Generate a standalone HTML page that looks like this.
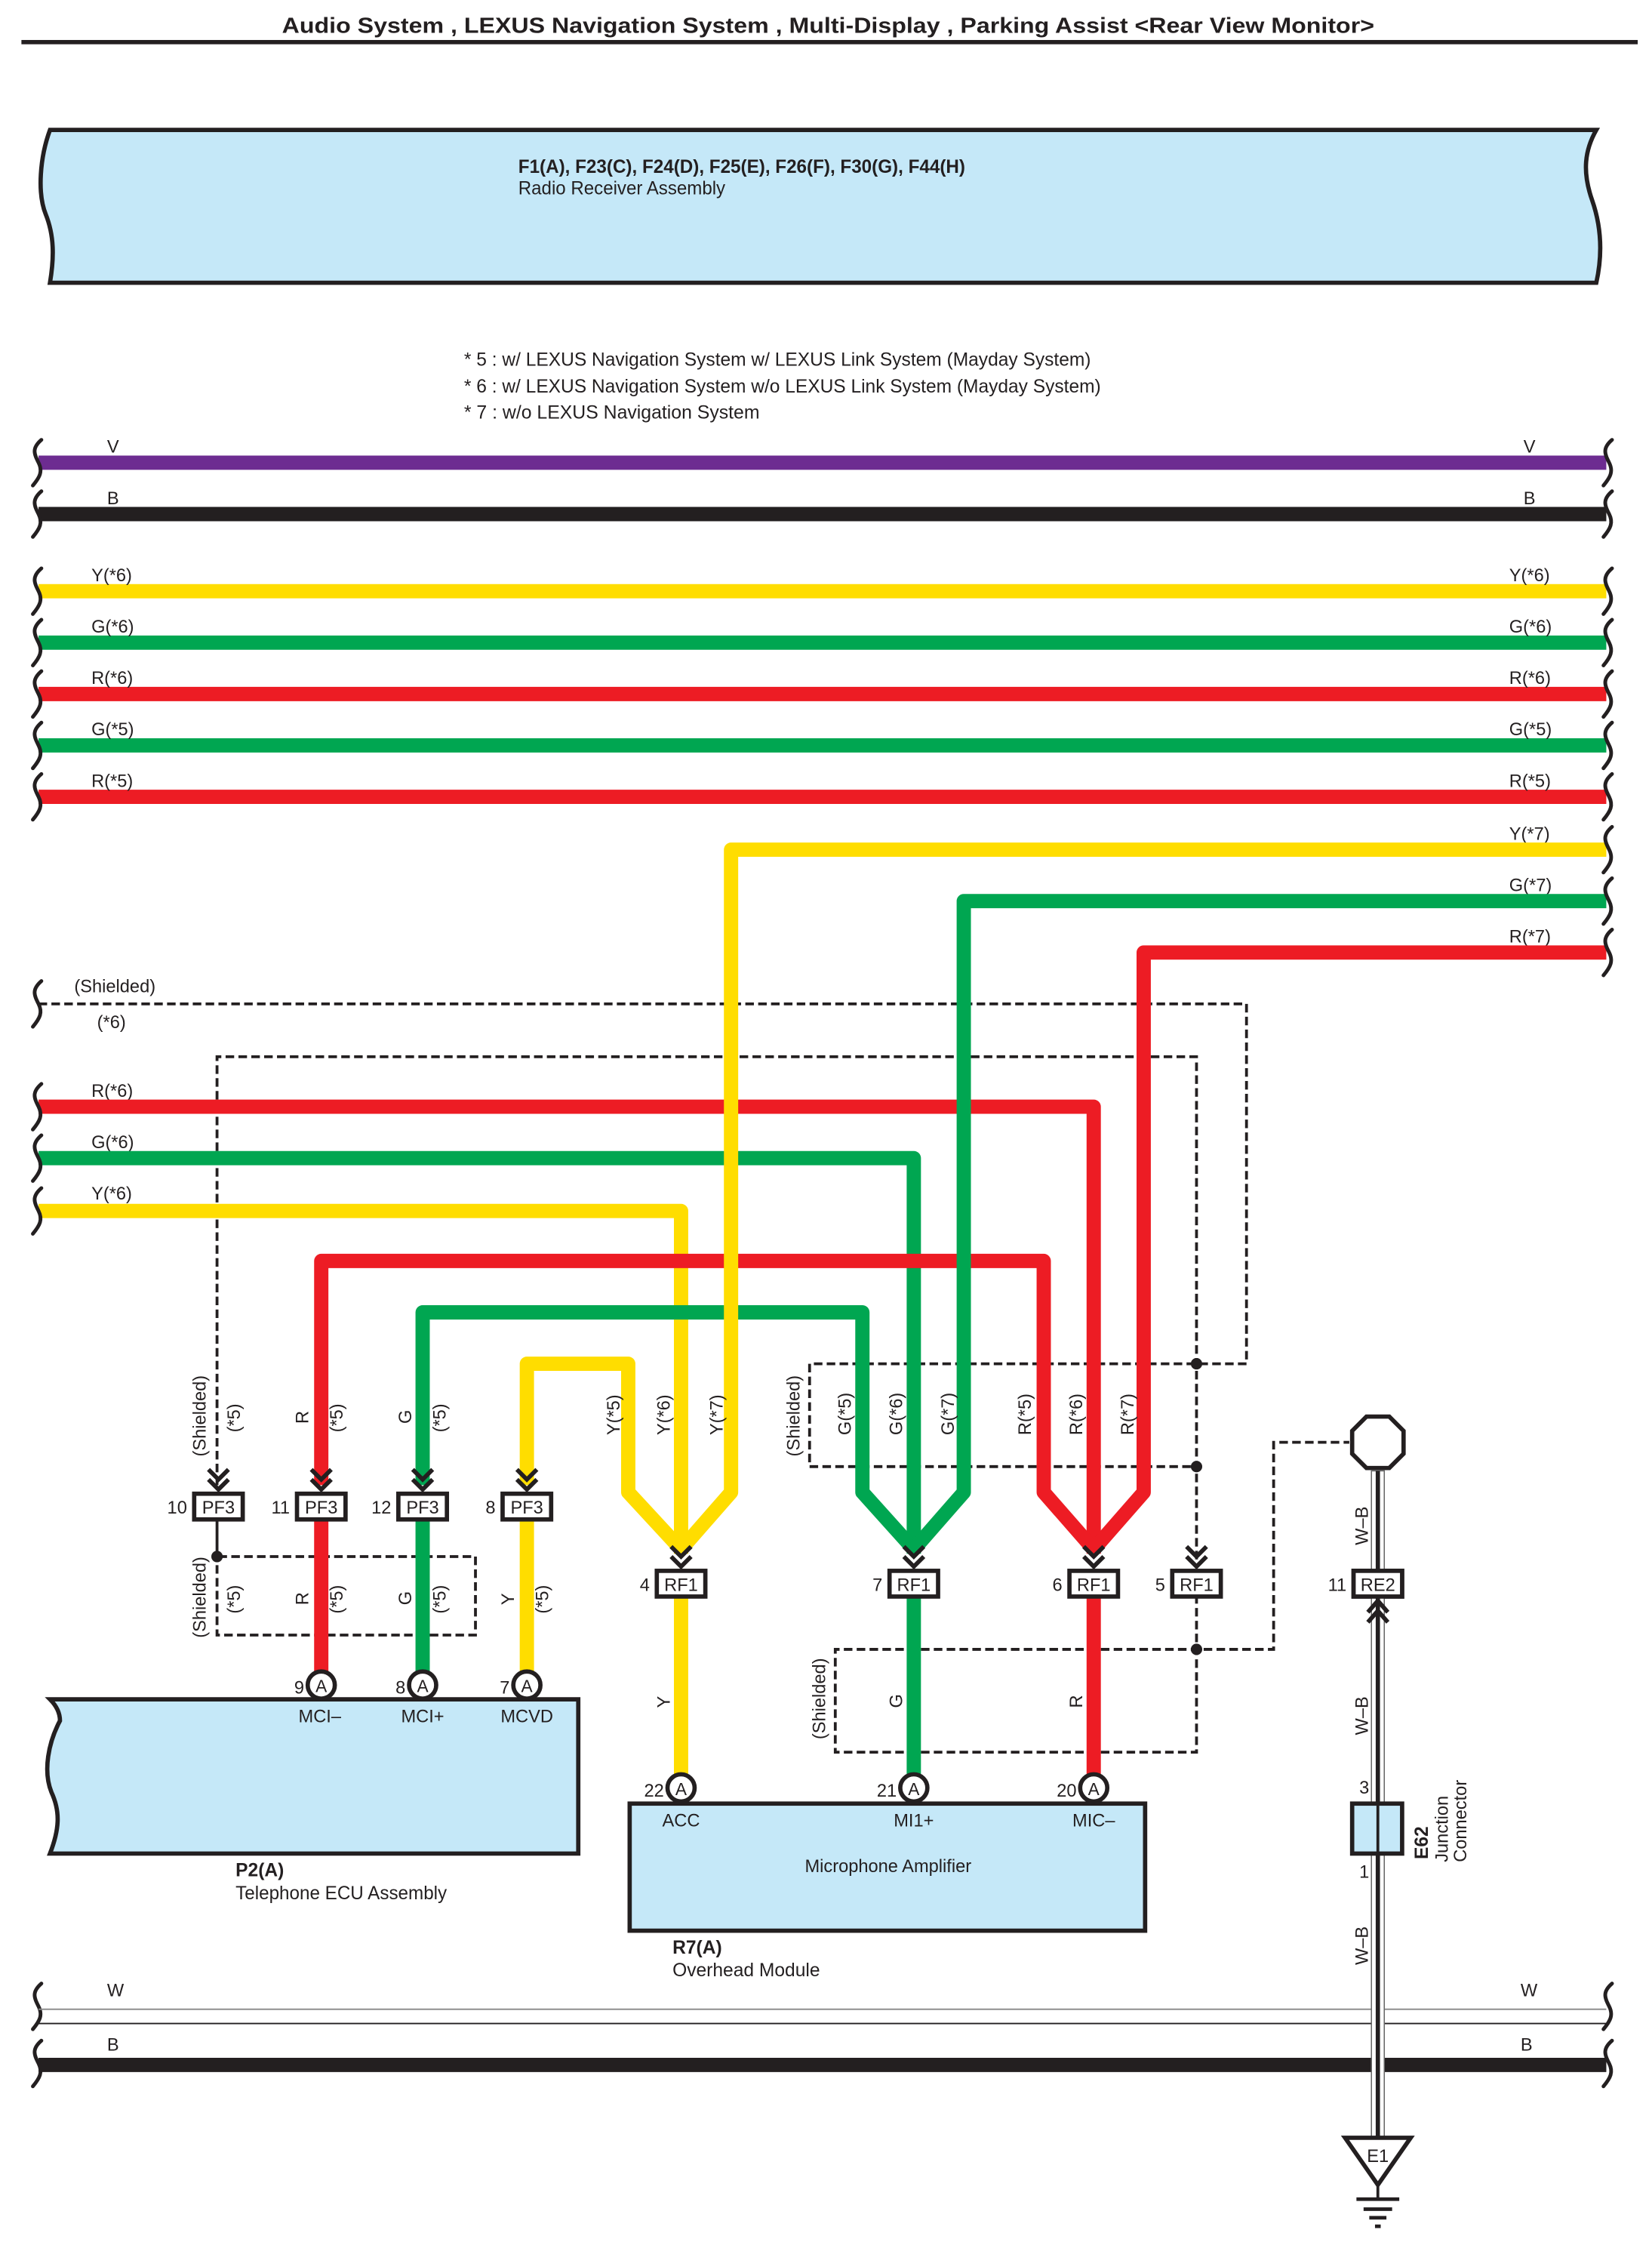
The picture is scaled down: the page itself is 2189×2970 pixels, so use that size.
<!DOCTYPE html>
<html><head><meta charset="utf-8"><style>
html,body{margin:0;padding:0;background:#fff}
svg{display:block}
text{font-family:"Liberation Sans",sans-serif;fill:#231f20}
</style></head><body>
<svg width="2189" height="2970" viewBox="0 0 1157 1570" preserveAspectRatio="none" xmlns="http://www.w3.org/2000/svg">
<defs>
<g id="chev"><path d="M-7,-15 L0,-8 L7,-15 M-7,-8 L0,-1 L7,-8" fill="none" stroke="#231f20" stroke-width="3"/></g>
<g id="sq"><path d="M4,-16 C-3,-10 -1,-6 2,0 C5,6 3,10 -2,16" fill="none" stroke="#231f20" stroke-width="2.6" stroke-linecap="round"/></g>
</defs>

<text x="580" y="23" font-size="15" font-weight="bold" text-anchor="middle" textLength="765" lengthAdjust="spacingAndGlyphs">Audio System , LEXUS Navigation System , Multi-Display , Parking Assist &lt;Rear View Monitor&gt;</text>
<rect x="15" y="28" width="1132" height="3" fill="#231f20"/>

<path d="M35,91 L1118,91 C1110,105 1108,120 1115,140 C1122,160 1122,180 1118,198 L35,198 C38,180 38,165 32,150 C26,135 28,110 35,91 Z" fill="#c5e8f8" stroke="#231f20" stroke-width="3"/>
<text x="363" y="121" font-size="13" font-weight="bold" textLength="313" lengthAdjust="spacingAndGlyphs">F1(A), F23(C), F24(D), F25(E), F26(F), F30(G), F44(H)</text>
<text x="363" y="136" font-size="13" textLength="145" lengthAdjust="spacingAndGlyphs">Radio Receiver Assembly</text>

<text x="325" y="256" font-size="13" textLength="439" lengthAdjust="spacingAndGlyphs">* 5 : w/ LEXUS Navigation System w/ LEXUS Link System (Mayday System)</text>
<text x="325" y="275" font-size="13" textLength="446" lengthAdjust="spacingAndGlyphs">* 6 : w/ LEXUS Navigation System w/o LEXUS Link System (Mayday System)</text>
<text x="325" y="293" font-size="13" textLength="207" lengthAdjust="spacingAndGlyphs">* 7 : w/o LEXUS Navigation System</text>

<g stroke-width="10" fill="none">
<line x1="27" y1="324" x2="1125" y2="324" stroke="#6d2c91"/>
<line x1="27" y1="360" x2="1125" y2="360" stroke="#231f20"/>
<line x1="27" y1="414" x2="1125" y2="414" stroke="#ffdd00"/>
<line x1="27" y1="450" x2="1125" y2="450" stroke="#00a651"/>
<line x1="27" y1="486" x2="1125" y2="486" stroke="#ed1c24"/>
<line x1="27" y1="522" x2="1125" y2="522" stroke="#00a651"/>
<line x1="27" y1="558" x2="1125" y2="558" stroke="#ed1c24"/>
</g>
<g font-size="12.5">
<text x="75" y="317">V</text><text x="1067" y="317">V</text>
<text x="75" y="353">B</text><text x="1067" y="353">B</text>
<text x="64" y="407">Y(*6)</text><text x="1057" y="407">Y(*6)</text>
<text x="64" y="443">G(*6)</text><text x="1057" y="443">G(*6)</text>
<text x="64" y="479">R(*6)</text><text x="1057" y="479">R(*6)</text>
<text x="64" y="515">G(*5)</text><text x="1057" y="515">G(*5)</text>
<text x="64" y="551">R(*5)</text><text x="1057" y="551">R(*5)</text>
<text x="1057" y="588">Y(*7)</text>
<text x="1057" y="624">G(*7)</text>
<text x="1057" y="660">R(*7)</text>
<text x="52" y="695">(Shielded)</text>
<text x="68" y="720">(*6)</text>
<text x="64" y="768">R(*6)</text>
<text x="64" y="804">G(*6)</text>
<text x="64" y="840">Y(*6)</text>
</g>

<g stroke="#231f20" stroke-width="2" stroke-dasharray="6,3" fill="none">
<path d="M27,703 L873,703 L873,955 L567,955 L567,1027 L838,1027"/>
<path d="M152,1040 L152,740 L838,740 L838,1093"/>
<path d="M152,1064 L152,1090 L333,1090 L333,1145 L152,1145 Z"/>
<path d="M838,1117 L838,1227 L585,1227 L585,1155 L892,1155 L892,1010 L945,1010"/>
</g>
<g fill="#231f20">
<circle cx="838" cy="955" r="4"/><circle cx="838" cy="1027" r="4"/>
<circle cx="152" cy="1090" r="4"/><circle cx="838" cy="1155" r="4"/>
</g>

<g stroke-width="10" fill="none" stroke-linejoin="round">
<path d="M27,775 L766,775 L766,1088" stroke="#ed1c24"/>
<path d="M27,811 L640,811 L640,1088" stroke="#00a651"/>
<path d="M27,848 L477,848 L477,1088" stroke="#ffdd00"/>
<path d="M225,1040 L225,883 L731,883 L731,1045 L766,1085" stroke="#ed1c24"/>
<path d="M296,1040 L296,919 L604,919 L604,1045 L640,1085" stroke="#00a651"/>
<path d="M369,1040 L369,955 L440,955 L440,1045 L477,1085" stroke="#ffdd00"/>
<path d="M1125,595 L512,595 L512,1045 L477,1085" stroke="#ffdd00"/>
<path d="M1125,631 L675,631 L675,1045 L640,1085" stroke="#00a651"/>
<path d="M1125,667 L801,667 L801,1045 L766,1085" stroke="#ed1c24"/>
<line x1="225" y1="1064" x2="225" y2="1172" stroke="#ed1c24"/>
<line x1="296" y1="1064" x2="296" y2="1172" stroke="#00a651"/>
<line x1="369" y1="1064" x2="369" y2="1172" stroke="#ffdd00"/>
<line x1="477" y1="1117" x2="477" y2="1244" stroke="#ffdd00"/>
<line x1="640" y1="1117" x2="640" y2="1244" stroke="#00a651"/>
<line x1="766" y1="1117" x2="766" y2="1244" stroke="#ed1c24"/>
</g>

<g>
<use href="#sq" x="25" y="324"/><use href="#sq" x="25" y="360"/>
<use href="#sq" x="25" y="414"/><use href="#sq" x="25" y="450"/><use href="#sq" x="25" y="486"/><use href="#sq" x="25" y="522"/><use href="#sq" x="25" y="558"/>
<use href="#sq" x="25" y="703"/>
<use href="#sq" x="25" y="775"/><use href="#sq" x="25" y="811"/><use href="#sq" x="25" y="848"/>
<use href="#sq" x="25" y="1405"/><use href="#sq" x="25" y="1445"/>
<use href="#sq" x="1125" y="324"/><use href="#sq" x="1125" y="360"/>
<use href="#sq" x="1125" y="414"/><use href="#sq" x="1125" y="450"/><use href="#sq" x="1125" y="486"/><use href="#sq" x="1125" y="522"/><use href="#sq" x="1125" y="558"/>
<use href="#sq" x="1125" y="595"/><use href="#sq" x="1125" y="631"/><use href="#sq" x="1125" y="667"/>
<use href="#sq" x="1125" y="1405"/><use href="#sq" x="1125" y="1445"/>
</g>

<g font-size="12.5">
<text transform="translate(144,1020) rotate(-90)">(Shielded)</text>
<text transform="translate(168,1003) rotate(-90)">(*5)</text>
<text transform="translate(216,997) rotate(-90)">R</text>
<text transform="translate(240,1003) rotate(-90)">(*5)</text>
<text transform="translate(288,997) rotate(-90)">G</text>
<text transform="translate(312,1003) rotate(-90)">(*5)</text>
<text transform="translate(434,1005) rotate(-90)">Y(*5)</text>
<text transform="translate(469,1005) rotate(-90)">Y(*6)</text>
<text transform="translate(506,1005) rotate(-90)">Y(*7)</text>
<text transform="translate(560,1020) rotate(-90)">(Shielded)</text>
<text transform="translate(596,1005) rotate(-90)">G(*5)</text>
<text transform="translate(632,1005) rotate(-90)">G(*6)</text>
<text transform="translate(668,1005) rotate(-90)">G(*7)</text>
<text transform="translate(722,1005) rotate(-90)">R(*5)</text>
<text transform="translate(758,1005) rotate(-90)">R(*6)</text>
<text transform="translate(794,1005) rotate(-90)">R(*7)</text>
<text transform="translate(144,1147) rotate(-90)">(Shielded)</text>
<text transform="translate(168,1130) rotate(-90)">(*5)</text>
<text transform="translate(216,1124) rotate(-90)">R</text>
<text transform="translate(240,1130) rotate(-90)">(*5)</text>
<text transform="translate(288,1124) rotate(-90)">G</text>
<text transform="translate(312,1130) rotate(-90)">(*5)</text>
<text transform="translate(360,1124) rotate(-90)">Y</text>
<text transform="translate(384,1130) rotate(-90)">(*5)</text>
<text transform="translate(469,1196) rotate(-90)">Y</text>
<text transform="translate(578,1218) rotate(-90)">(Shielded)</text>
<text transform="translate(632,1196) rotate(-90)">G</text>
<text transform="translate(758,1196) rotate(-90)">R</text>
<text transform="translate(958,1082) rotate(-90)">W–B</text>
<text transform="translate(958,1215) rotate(-90)">W–B</text>
<text transform="translate(958,1376) rotate(-90)">W–B</text>
</g>

<use href="#chev" x="153" y="1044"/><use href="#chev" x="225" y="1044"/><use href="#chev" x="296" y="1044"/><use href="#chev" x="369" y="1044"/>
<use href="#chev" x="477" y="1098"/><use href="#chev" x="640" y="1098"/><use href="#chev" x="766" y="1098"/><use href="#chev" x="838" y="1098"/>

<g fill="#fff" stroke="#231f20" stroke-width="3">
<rect x="136" y="1046" width="34" height="18"/><rect x="208" y="1046" width="34" height="18"/>
<rect x="279" y="1046" width="34" height="18"/><rect x="352" y="1046" width="34" height="18"/>
<rect x="460" y="1100" width="34" height="18"/><rect x="623" y="1100" width="34" height="18"/>
<rect x="749" y="1100" width="34" height="18"/><rect x="821" y="1100" width="34" height="18"/>
<rect x="948" y="1100" width="34" height="18"/>
</g>
<g font-size="12.5" text-anchor="middle">
<text x="153" y="1060">PF3</text><text x="225" y="1060">PF3</text><text x="296" y="1060">PF3</text><text x="369" y="1060">PF3</text>
<text x="477" y="1114">RF1</text><text x="640" y="1114">RF1</text><text x="766" y="1114">RF1</text><text x="838" y="1114">RF1</text>
<text x="965" y="1114">RE2</text>
</g>
<g font-size="12.5" text-anchor="end">
<text x="131" y="1060">10</text><text x="203" y="1060">11</text><text x="274" y="1060">12</text><text x="347" y="1060">8</text>
<text x="455" y="1114">4</text><text x="618" y="1114">7</text><text x="744" y="1114">6</text><text x="816" y="1114">5</text>
<text x="943" y="1114">11</text>
</g>

<path d="M35,1190 L405,1190 L405,1298 L35,1298 C42,1280 42,1268 36,1255 C30,1240 34,1220 42,1205 C42,1198 38,1193 35,1190 Z" fill="#c5e8f8" stroke="#231f20" stroke-width="3"/>
<g font-size="12.5" text-anchor="middle">
<text x="224" y="1206">MCI–</text><text x="296" y="1206">MCI+</text><text x="369" y="1206">MCVD</text>
</g>
<text x="165" y="1314" font-size="13" font-weight="bold">P2(A)</text>
<text x="165" y="1330" font-size="13" textLength="148" lengthAdjust="spacingAndGlyphs">Telephone ECU Assembly</text>

<rect x="441" y="1263" width="361" height="89" fill="#c5e8f8" stroke="#231f20" stroke-width="3"/>
<g font-size="12.5" text-anchor="middle">
<text x="477" y="1279">ACC</text><text x="640" y="1279">MI1+</text><text x="766" y="1279">MIC–</text>
<text x="622" y="1311">Microphone Amplifier</text>
</g>
<text x="471" y="1368" font-size="13" font-weight="bold">R7(A)</text>
<text x="471" y="1384" font-size="13">Overhead Module</text>

<g fill="#fff" stroke="#231f20" stroke-width="3">
<circle cx="225" cy="1180" r="9.5"/><circle cx="296" cy="1180" r="9.5"/><circle cx="369" cy="1180" r="9.5"/>
<circle cx="477" cy="1252" r="9.5"/><circle cx="640" cy="1252" r="9.5"/><circle cx="766" cy="1252" r="9.5"/>
</g>
<g font-size="12" text-anchor="middle">
<text x="225" y="1185">A</text><text x="296" y="1185">A</text><text x="369" y="1185">A</text>
<text x="477" y="1257">A</text><text x="640" y="1257">A</text><text x="766" y="1257">A</text>
</g>
<g font-size="12.5" text-anchor="end">
<text x="213" y="1186">9</text><text x="284" y="1186">8</text><text x="357" y="1186">7</text>
<text x="465" y="1258">22</text><text x="628" y="1258">21</text><text x="754" y="1258">20</text>
</g>

<line x1="27" y1="1407" x2="1125" y2="1407" stroke="#888" stroke-width="1"/>
<line x1="27" y1="1417" x2="1125" y2="1417" stroke="#231f20" stroke-width="1"/>
<line x1="27" y1="1446" x2="1125" y2="1446" stroke="#231f20" stroke-width="10"/>
<g font-size="12.5">
<text x="75" y="1398">W</text><text x="1065" y="1398">W</text>
<text x="75" y="1436">B</text><text x="1065" y="1436">B</text>
</g>

<rect x="960.5" y="1030" width="9" height="468" fill="#fff" stroke="#666" stroke-width="0.8"/>
<line x1="965" y1="1030" x2="965" y2="1498" stroke="#231f20" stroke-width="3"/>
<rect x="948" y="1100" width="34" height="18" fill="#fff" stroke="#231f20" stroke-width="3"/>
<text x="965" y="1114" font-size="12.5" text-anchor="middle">RE2</text>
<path d="M958,1136 L965,1128 L972,1136 M958,1129 L965,1121 L972,1129" fill="none" stroke="#231f20" stroke-width="3"/>
<polygon points="957,992 973,992 983,1002 983,1018 973,1028 957,1028 947,1018 947,1002" fill="#fff" stroke="#231f20" stroke-width="3"/>
<rect x="947" y="1263" width="35" height="35" fill="#c5e8f8" stroke="#231f20" stroke-width="3"/>
<line x1="965" y1="1263" x2="965" y2="1298" stroke="#231f20" stroke-width="2"/>
<text x="952" y="1256" font-size="12.5">3</text>
<text x="952" y="1315" font-size="12.5">1</text>
<text transform="translate(1000,1302) rotate(-90)" font-size="13" font-weight="bold">E62</text>
<text transform="translate(1014,1304) rotate(-90)" font-size="12.5">Junction</text>
<text transform="translate(1027,1304) rotate(-90)" font-size="12.5">Connector</text>
<polygon points="942,1497 988,1497 965,1530" fill="#fff" stroke="#231f20" stroke-width="3"/>
<text x="965" y="1514" font-size="12.5" text-anchor="middle">E1</text>
<line x1="965" y1="1530" x2="965" y2="1540" stroke="#231f20" stroke-width="2"/>
<line x1="950" y1="1540" x2="980" y2="1540" stroke="#231f20" stroke-width="2.5"/>
<line x1="955" y1="1547" x2="975" y2="1547" stroke="#231f20" stroke-width="2.5"/>
<line x1="959" y1="1553" x2="971" y2="1553" stroke="#231f20" stroke-width="2.5"/>
<line x1="963" y1="1559" x2="967" y2="1559" stroke="#231f20" stroke-width="2.5"/>
</svg>
</body></html>
